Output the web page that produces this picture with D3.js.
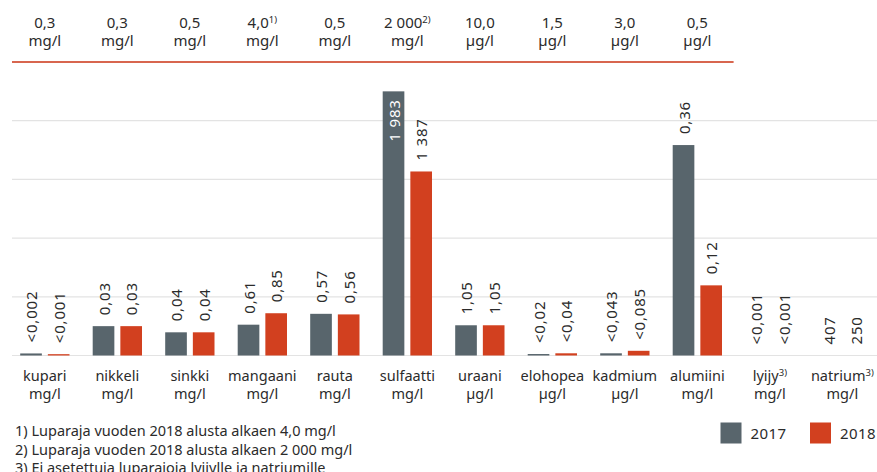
<!DOCTYPE html>
<html>
<head>
<meta charset="utf-8">
<script src="https://cdn.jsdelivr.net/npm/d3@7"></script>
<style>
  body { margin: 0; background: #fff; }
  text { font-family: "Noto Sans", sans-serif; fill: #2b2b2b; }
</style>
</head>
<body>
<div id="chart"></div>
<script>
// Categories and units
const categories = ['kupari', 'nikkeli', 'sinkki', 'mangaani', 'rauta', 'sulfaatti',
                    'uraani', 'elohopea', 'kadmium', 'alumiini', 'lyijy', 'natrium'];
const catNotes = ['', '', '', '', '', '', '', '', '', '', '3)', '3)'];
const catUnits = ['mg/l', 'mg/l', 'mg/l', 'mg/l', 'mg/l', 'mg/l',
                  'µg/l', 'µg/l', 'µg/l', 'mg/l', 'mg/l', 'mg/l'];

// Permit limits shown on top (first ten categories)
const limits = ['0,3', '0,3', '0,5', '4,0', '0,5', '2 000', '10,0', '1,5', '3,0', '0,5'];
const limitNotes = ['', '', '', '1)', '', '2)', '', '', '', ''];
const limitUnits = ['mg/l', 'mg/l', 'mg/l', 'mg/l', 'mg/l', 'mg/l', 'µg/l', 'µg/l', 'µg/l', 'µg/l'];

const years = ['2017', '2018'];
// bar heights as drawn in the picture (chart scale 0-100)
const bars2017 = [0.7, 10, 7.9, 10.5, 14.2, 90, 10.3, 0.5, 0.75, 71.7, 0, 0];
const bars2018 = [0.45, 10, 7.9, 14.4, 14.0, 62.7, 10.3, 0.75, 1.6, 23.9, 0, 0];
// printed values
const labels2017 = ['<0,002', '0,03', '0,04', '0,61', '0,57', '1 983', '1,05', '<0,02', '<0,043', '0,36', '<0,001', '407'];
const labels2018 = ['<0,001', '0,03', '0,04', '0,85', '0,56', '1 387', '1,05', '<0,04', '<0,085', '0,12', '<0,001', '250'];

const footnotes = [
  '1) Luparaja vuoden 2018 alusta alkaen 4,0 mg/l',
  '2) Luparaja vuoden 2018 alusta alkaen 2 000 mg/l',
  '3) Ei asetettuja luparajoja lyijylle ja natriumille'
];

const colorMap = { '2017': '#58656c', '2018': '#d2401f' };

const W = 877, H = 472;
const plotTop = 62, plotBottom = 355.5;

const data = categories.map((c, i) => ({
  cat: c,
  values: [
    { year: '2017', v: bars2017[i], label: labels2017[i] },
    { year: '2018', v: bars2018[i], label: labels2018[i] }
  ]
}));

const svg = d3.select('#chart')
  .append('svg')
  .attr('width', W)
  .attr('height', H);

const x = d3.scaleBand()
  .domain(categories)
  .range([8.6, 878.6])
  .paddingInner(0.32)
  .paddingOuter(0.16);

const x1 = d3.scaleBand()
  .domain(years)
  .range([0, x.bandwidth()])
  .paddingInner(0.217);

const y = d3.scaleLinear()
  .domain([0, 100])
  .range([plotBottom, plotTop]);

// gridlines
svg.append('g')
  .selectAll('line')
  .data([0, 20, 40, 60, 80])
  .enter()
  .append('line')
  .attr('x1', 12)
  .attr('x2', W)
  .attr('y1', d => y(d))
  .attr('y2', d => y(d))
  .attr('stroke', '#e3e3e3')
  .attr('stroke-width', 1.2);

// header with limits
const header = svg.append('g');
const headerEnd = x(categories[limits.length - 1]) + x.bandwidth() + x.step() * x.paddingInner() / 2;

header.append('line')
  .attr('x1', 12)
  .attr('x2', headerEnd)
  .attr('y1', y(100))
  .attr('y2', y(100))
  .attr('stroke', '#d8664f')
  .attr('stroke-width', 2);

limits.forEach((l, i) => {
  const cx = x(categories[i]) + x.bandwidth() / 2;
  const t = header.append('text')
    .attr('x', cx)
    .attr('y', 28)
    .attr('text-anchor', 'middle')
    .style('font-size', '15px');
  t.append('tspan').text(l);
  if (limitNotes[i]) {
    t.append('tspan')
      .attr('dy', -5)
      .style('font-size', '9.5px')
      .text(limitNotes[i]);
  }
  header.append('text')
    .attr('x', cx)
    .attr('y', 46)
    .attr('text-anchor', 'middle')
    .style('font-size', '15px')
    .text(limitUnits[i]);
});

// bars
const groups = svg.append('g')
  .selectAll('g')
  .data(data)
  .enter()
  .append('g')
  .attr('transform', d => `translate(${x(d.cat)},0)`);

groups.selectAll('rect')
  .data(d => d.values)
  .enter()
  .append('rect')
  .attr('x', d => x1(d.year))
  .attr('y', d => y(d.v))
  .attr('width', x1.bandwidth())
  .attr('height', d => y(0) - y(d.v))
  .attr('fill', d => colorMap[d.year]);

// value labels, rotated
groups.selectAll('text.value')
  .data(d => d.values)
  .enter()
  .append('text')
  .attr('class', 'value')
  .attr('transform', d => {
    const inside = d.v > 80;
    const yy = inside ? y(d.v) + 8 : y(d.v) - 11;
    return `translate(${x1(d.year) + x1.bandwidth() / 2},${yy}) rotate(-90)`;
  })
  .attr('text-anchor', d => d.v > 80 ? 'end' : 'start')
  .attr('dominant-baseline', 'central')
  .style('font-size', '15px')
  .style('letter-spacing', '0.8px')
  .style('fill', d => d.v > 80 ? '#fff' : '#2b2b2b')
  .text(d => d.label);

// category labels
categories.forEach((c, i) => {
  const cx = x(c) + x.bandwidth() / 2;
  const t = svg.append('text')
    .attr('x', cx)
    .attr('y', 381)
    .attr('text-anchor', 'middle')
    .style('font-size', '14.5px');
  t.append('tspan').text(c);
  if (catNotes[i]) {
    t.append('tspan')
      .attr('dy', -5)
      .style('font-size', '9.5px')
      .text(catNotes[i]);
  }
  svg.append('text')
    .attr('x', cx)
    .attr('y', 399)
    .attr('text-anchor', 'middle')
    .style('font-size', '14.5px')
    .text(catUnits[i]);
});

// footnotes
svg.append('g')
  .selectAll('text')
  .data(footnotes)
  .enter()
  .append('text')
  .attr('x', 15)
  .attr('y', (d, i) => 436 + i * 18.7)
  .style('font-size', '14.5px')
  .text(d => d);

// legend
const legend = svg.append('g')
  .selectAll('g')
  .data(years)
  .enter()
  .append('g')
  .attr('transform', (d, i) => `translate(${720.5 + i * 89.5},422.5)`);

legend.append('rect')
  .attr('width', 21)
  .attr('height', 21)
  .attr('fill', d => colorMap[d]);

legend.append('text')
  .attr('x', 30)
  .attr('y', 16.5)
  .style('font-size', '15px')
  .style('letter-spacing', '0.4px')
  .text(d => d);
</script>
</body>
</html>
